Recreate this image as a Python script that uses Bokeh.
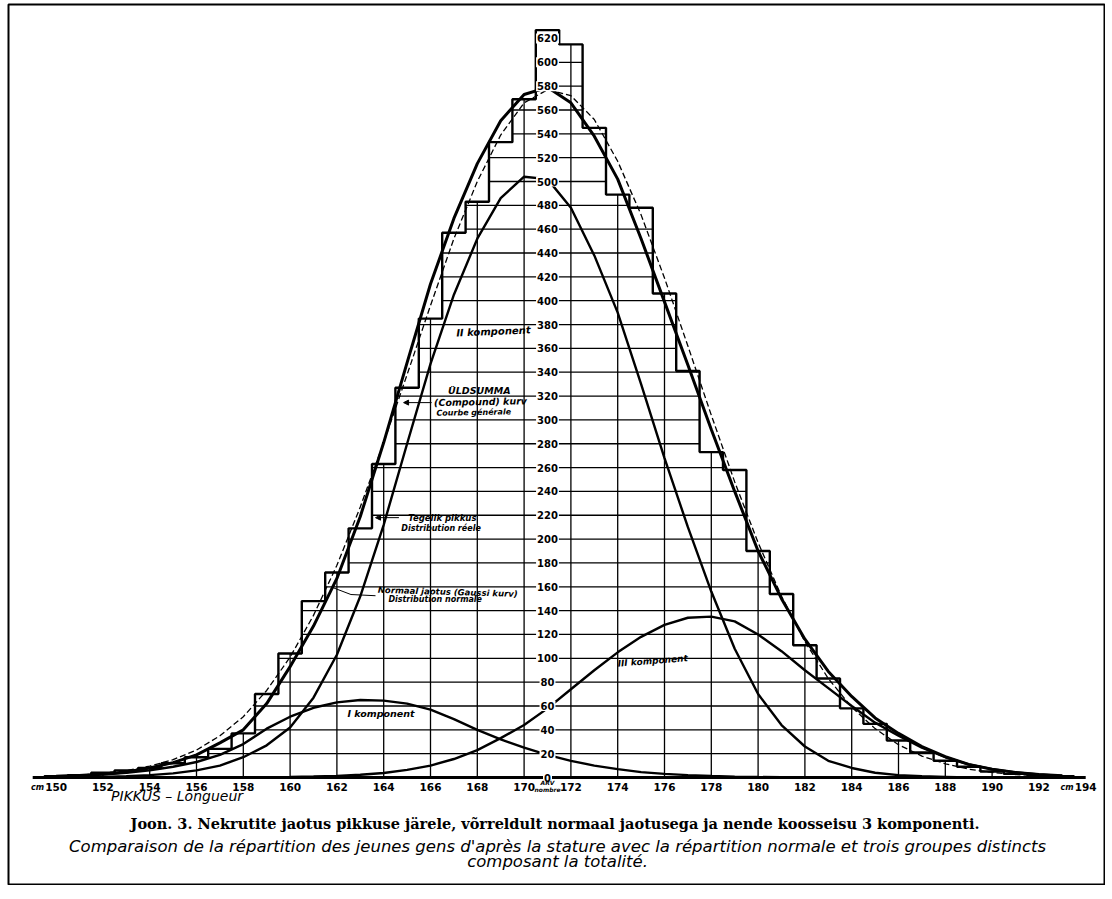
import numpy as np
from bokeh.plotting import figure
from bokeh.models import Arrow, NormalHead, ColumnDataSource
from bokeh.core.properties import value
from bokeh.embed import file_html
from bokeh.resources import INLINE

# ---------------- data ----------------
stature = [150, 151, 152, 153, 154, 155, 156, 157, 158, 159, 160, 161, 162, 163, 164,
           165, 166, 167, 168, 169, 170, 171, 172, 173, 174, 175, 176, 177, 178, 179,
           180, 181, 182, 183, 184, 185, 186, 187, 188, 189, 190, 191, 192, 193]

hist_counts = [1, 2, 4, 6, 8, 12, 17, 24, 37, 70, 104, 148, 172, 209, 263,
               327, 385, 457, 483, 533, 569, 627, 615, 545, 489, 478, 406, 341, 273, 258,
               190, 154, 111, 83, 58, 45, 31, 21, 14, 9, 5, 3, 2, 1]

normal_curve = [1.1, 2, 3.5, 5.8, 9.5, 15, 23, 35, 51, 73, 101, 136, 178, 227, 281,
                338, 396, 452, 500, 539, 566, 577, 572, 552, 517, 472, 419, 362, 304, 248,
                197, 152, 114, 83, 59, 41, 27.5, 18, 11.5, 7, 4.3, 2.5, 1.5, 0.8]

compound_curve = [1, 1.7, 3, 4.7, 8, 12.5, 19, 29, 40, 62, 93, 127, 167, 219, 281,
                  348, 414, 469, 515, 551, 573, 579, 566, 538, 502, 452, 399, 346, 292, 240,
                  190, 150, 116, 89, 68, 50, 37, 26, 17.5, 11, 7, 4.3, 2.5, 1.4]

component_I = [1, 1.5, 2.5, 4, 6, 9, 13, 19, 28, 41, 51, 58.5, 63, 65, 64.5,
               62, 57, 49, 40, 32, 25, 19, 14, 10, 7, 4.5, 3, 2, 1.2, 0.7,
               0.4, 0.2, 0, 0, 0, 0, 0, 0, 0, 0, 0, 0, 0, 0]

component_II = [0, 0.2, 0.5, 1, 2, 3.5, 6, 10, 17, 27, 42, 67, 103, 152, 212,
                280, 347, 405, 452, 486, 504, 502, 478, 438, 390, 330, 268, 210, 156, 108,
                70, 44, 26, 14, 8, 4, 2, 1, 0.5, 0, 0, 0, 0, 0]

component_III = [0, 0, 0, 0, 0, 0, 0, 0, 0, 0.2, 0.4, 0.8, 1.3, 2.3, 3.8,
                 6.4, 10, 15.5, 23, 33, 44, 58, 74, 90, 105, 118, 128, 134, 135, 131,
                 120, 106, 90, 75, 60, 46, 35, 25, 17, 11, 7, 4.3, 2.5, 1.4]

x_tick_values = [150, 152, 154, 156, 158, 160, 162, 164, 166, 168, 170, 172,
                 174, 176, 178, 180, 182, 184, 186, 188, 190, 192, 194]
y_tick_values = list(range(0, 640, 20))
axis_position = 171   # vertical scale drawn at the mean (ARV / nombre)

caption_lines = [
    "Joon. 3.  Nekrutite jaotus pikkuse järele, võrreldult normaal jaotusega ja nende koosseisu 3 komponenti.",
    "Comparaison de la répartition des jeunes gens d'après la stature avec la répartition normale et trois groupes distincts",
    "composant la totalité.",
]

# annotation texts and their places (x in cm, y in counts)
ann_text = ["II komponent", "ÜLDSUMMA", "(Compound) kurv", "Courbe générale",
            "Tegelik pikkus", "Distribution réele", "Normaal jaotus (Gaussi kurv)",
            "Distribution normale", "III komponent", "I komponent"]
ann_x = [167.1, 166.75, 166.15, 166.25, 165.05, 164.75, 163.75, 164.2, 174.0, 162.45]
ann_y = [373, 325, 314.5, 305.5, 217.5, 209, 157.5, 149, 95.5, 53.5]
ann_size = ["10px", "9.5px", "9.5px", "8px", "8.5px", "8px", "8.5px", "8px", "9px", "9.5px"]
ann_angle = [0.04, 0, 0.02, 0.02, 0, 0, -0.03, 0, 0.08, 0]

# ---------------- figure ----------------
LEFT, TOP = 8, 4
FW, FH = 1097, 881
PX_CM, PX_V = 23.4, 1.192
x0 = axis_position - 539 / PX_CM
y1 = 773 / PX_V
p = figure(width=LEFT + FW, height=TOP + FH,
           x_range=(x0, x0 + FW / PX_CM), y_range=(y1 - FH / PX_V, y1),
           x_axis_type=None, y_axis_type=None,
           toolbar_location=None, output_backend="svg",
           min_border_left=LEFT, min_border_top=TOP, min_border_right=0, min_border_bottom=0)
p.outline_line_color = "black"
p.outline_line_width = 2
p.background_fill_color = "white"
p.border_fill_color = "white"

cm = np.array(stature, dtype=float)
h = np.array(hist_counts, dtype=float)

# horizontal grid lines, limited to the inside of the histogram
gx0, gx1, gy = [], [], []
for lvl in y_tick_values[1:]:
    idx = np.where(h >= lvl)[0]
    if len(idx):
        gx0.append(cm[idx[0]] - 0.5)
        gx1.append(cm[idx[-1]] + 0.5)
        gy.append(lvl)
p.segment(x0=gx0, y0=gy, x1=gx1, y1=gy, line_color="black", line_width=1.3)

# vertical grid lines at even cm up to the histogram
vx = [c for c in x_tick_values if c in stature and c >= 152]
vtop = [hist_counts[stature.index(c)] for c in vx]
p.segment(x0=vx, y0=[0] * len(vx), x1=vx, y1=vtop, line_color="black", line_width=1.3)

# histogram outline (actual distribution)
hx, hy = [cm[0] - 0.5], [0.0]
for c, v in zip(cm, h):
    hx += [c - 0.5, c + 0.5]
    hy += [v, v]
hx.append(cm[-1] + 0.5)
hy.append(0.0)
p.line(hx, hy, line_color="black", line_width=2.4)

# curves
p.line(stature, normal_curve, line_color="black", line_width=1.3, line_dash="6 3")
p.line(stature, component_I, line_color="black", line_width=2.4)
p.line(stature, component_II, line_color="black", line_width=2.4)
p.line(stature, component_III, line_color="black", line_width=2.4)
p.line(stature, compound_curve, line_color="black", line_width=3)

# base line
p.segment(x0=[x_tick_values[0] - 1.0], y0=[0], x1=[x_tick_values[-1]], y1=[0],
          line_color="black", line_width=3)

# vertical scale labels on the mean line
p.text(x=[axis_position] * len(y_tick_values), y=y_tick_values,
       text=[str(v) for v in y_tick_values],
       text_align="center", text_baseline="middle",
       text_font=value("DejaVu Sans"), text_font_style="bold", text_font_size="10px",
       background_fill_color="white", padding=1)

# x tick labels
p.text(x=x_tick_values, y=[-8.0] * len(x_tick_values), text=[str(v) for v in x_tick_values],
       text_align="center", text_baseline="middle",
       text_font=value("DejaVu Sans"), text_font_style="bold", text_font_size="10.5px")
p.text(x=[x_tick_values[0], x_tick_values[-1]], y=[-8.0, -8.0], text=["cm", "cm"],
       x_offset=-12, text_align="right", text_baseline="middle",
       text_font=value("DejaVu Sans"), text_font_style="bold italic", text_font_size="8px")
p.text(x=[axis_position, axis_position], y=[-4.5, -10.3], text=["ARV", "nombre"],
       text_align="center", text_baseline="middle",
       text_font=value("DejaVu Sans"), text_font_style="bold italic", text_font_size="6px")
p.text(x=[152.35], y=[-15.5], text=["PIKKUS – Longueur"],
       text_align="left", text_baseline="middle",
       text_font=value("DejaVu Sans"), text_font_style="italic", text_font_size="14px")

# annotations
src = ColumnDataSource(dict(x=ann_x, y=ann_y, text=ann_text, size=ann_size, angle=ann_angle))
p.text(x="x", y="y", text="text", angle="angle", text_font_size="size", source=src,
       text_align="left", text_baseline="middle",
       text_font=value("DejaVu Sans"), text_font_style="bold italic")

for xs, ys, xe, ye in [(166.05, 314.5, 164.85, 314.5), (164.65, 218.0, 163.65, 218.0)]:
    p.add_layout(Arrow(end=NormalHead(size=5, fill_color="black", line_color="black"),
                       x_start=xs, y_start=ys, x_end=xe, y_end=ye,
                       line_color="black", line_width=1))
p.line([161.8, 162.6, 163.65], [159.5, 153.5, 152.5], line_color="black", line_width=1)

# caption
cap_x = 171.43
p.text(x=[cap_x], y=[-38.6], text=[caption_lines[0]], text_align="center", text_baseline="middle",
       text_font=value("DejaVu Serif"), text_font_style="bold", text_font_size="14.5px")
p.text(x=[cap_x, cap_x], y=[-57.9, -70.5], text=caption_lines[1:], text_align="center",
       text_baseline="middle", text_font=value("DejaVu Sans"), text_font_style="italic",
       text_font_size="16.5px")

open("out.html", "w").write(file_html(p, INLINE))
